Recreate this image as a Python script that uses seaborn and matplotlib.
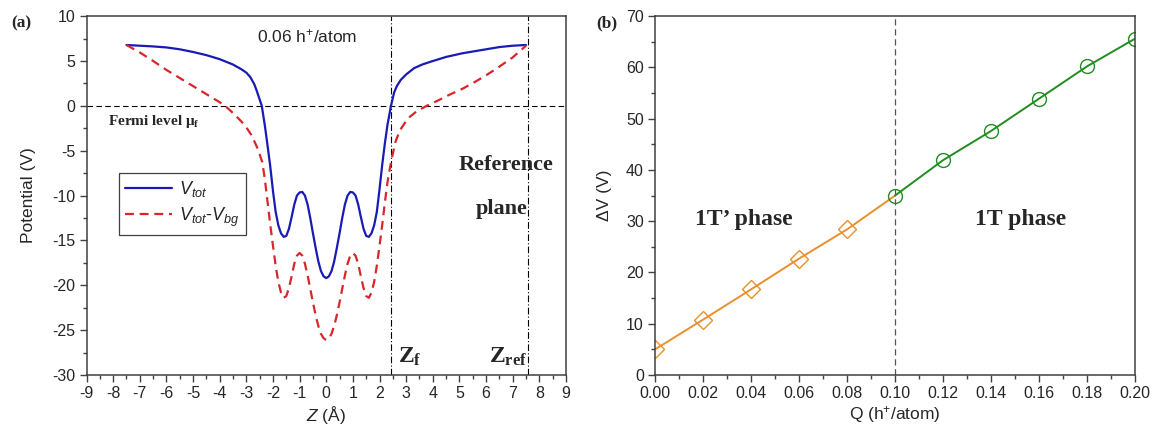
import matplotlib
matplotlib.use("Agg")
import matplotlib.pyplot as plt
from matplotlib.ticker import MultipleLocator
import seaborn as sns

# ---- panel (a): potential profile at 0.06 h+/atom ----
z_tot = [-7.5, -6.5, -6.0, -5.5, -5.0, -4.5, -4.0, -3.5, -3.2, -3.0, -2.85, -2.7, -2.6, -2.5,
         -2.42, -2.3, -2.2, -2.1, -2.0, -1.9, -1.8, -1.7, -1.6, -1.5, -1.4, -1.3, -1.2, -1.1,
         -1.0, -0.9, -0.8, -0.7, -0.6, -0.5, -0.4, -0.3, -0.2, -0.1, 0.0,
         0.1, 0.2, 0.3, 0.4, 0.5, 0.6, 0.7, 0.8, 0.9, 1.0, 1.1, 1.2, 1.3, 1.4, 1.5, 1.6,
         1.7, 1.8, 1.9, 2.0, 2.1, 2.2, 2.3, 2.43, 2.55, 2.65, 2.8, 3.0, 3.3, 3.6, 3.9,
         4.5, 5.1, 5.5, 6.0, 6.5, 7.0, 7.5]
v_tot = [6.78, 6.62, 6.51, 6.3, 6.0, 5.65, 5.2, 4.6, 4.1, 3.7, 3.2, 2.4, 1.6, 0.7,
         0.0, -2.3, -4.5, -6.8, -9.5, -11.8, -13.3, -14.2, -14.6, -14.5, -13.7, -12.4, -11.0, -10.0,
         -9.65, -9.6, -10.0, -11.0, -12.5, -14.2, -15.8, -17.3, -18.4, -19.0, -19.2,
         -19.0, -18.4, -17.3, -15.8, -14.2, -12.5, -11.0, -10.0, -9.6, -9.65, -10.0, -11.0, -12.4, -13.7, -14.5, -14.6,
         -14.2, -13.3, -11.8, -9.3, -6.6, -4.2, -2.1, 0.0, 1.5, 2.2, 2.9, 3.5, 4.2, 4.6, 4.9,
         5.45, 5.85, 6.05, 6.3, 6.55, 6.7, 6.78]

z_bg = [-7.5, -7.0, -6.5, -6.0, -5.5, -5.0, -4.5, -4.0, -3.8, -3.5, -3.2, -3.0, -2.8, -2.6,
        -2.5, -2.4, -2.3, -2.2, -2.1, -2.0, -1.9, -1.8, -1.7, -1.6, -1.5, -1.4, -1.3, -1.2,
        -1.1, -1.0, -0.9, -0.8, -0.7, -0.6, -0.5, -0.4, -0.3, -0.2, -0.1, 0.0,
        0.1, 0.2, 0.3, 0.4, 0.5, 0.6, 0.7, 0.8, 0.9, 1.0, 1.1, 1.2, 1.3, 1.4, 1.5, 1.6,
        1.7, 1.8, 1.9, 2.0, 2.1, 2.2, 2.3, 2.4, 2.46, 2.6, 2.77, 3.0, 3.14, 3.4, 3.77,
        4.2, 4.6, 5.14, 5.6, 6.0, 6.4, 7.0, 7.5]
v_bg = [6.78, 5.95, 5.0, 4.0, 3.1, 2.2, 1.3, 0.4, 0.0, -0.8, -1.7, -2.4, -3.3, -4.6,
        -5.4, -6.3, -8.3, -10.8, -13.3, -15.6, -17.8, -19.6, -20.8, -21.4, -21.2, -20.3, -19.0, -17.6,
        -16.7, -16.4, -16.7, -17.6, -18.9, -20.4, -21.9, -23.3, -24.5, -25.4, -25.9, -26.1,
        -25.9, -25.4, -24.5, -23.3, -21.9, -20.4, -18.9, -17.6, -16.7, -16.4, -16.7, -17.6, -19.0, -20.3, -21.2, -21.4,
        -20.8, -19.6, -17.8, -15.6, -13.3, -10.8, -8.5, -6.8, -5.86, -4.0, -2.7, -1.7, -1.22, -0.6, 0.0,
        0.6, 1.2, 1.94, 2.7, 3.4, 4.17, 5.4, 6.7]

z_f = 2.43
z_ref = 7.58

# ---- panel (b): potential drop vs doping ----
q_1tp = [0.00, 0.02, 0.04, 0.06, 0.08, 0.10]
dv_1tp = [5.0, 10.8, 16.7, 22.7, 28.4, 35.0]
q_1t = [0.10, 0.12, 0.14, 0.16, 0.18, 0.20]
dv_1t = [35.0, 41.9, 47.6, 53.9, 60.2, 65.6]

sns.set_style("ticks")
plt.rcParams["font.family"] = ["Liberation Sans", "DejaVu Sans"]
plt.rcParams["axes.unicode_minus"] = False
plt.rcParams["mathtext.fontset"] = "custom"
plt.rcParams["mathtext.rm"] = "Liberation Sans"
plt.rcParams["mathtext.it"] = "Liberation Sans:italic"
plt.rcParams["mathtext.bf"] = "Liberation Serif:bold"

serif = ["Liberation Serif", "DejaVu Serif"]
spine_col = "#404040"

fig = plt.figure(figsize=(11.52, 4.34), dpi=100)
ax1 = fig.add_axes([0.0751, 0.1359, 0.4162, 0.827])
ax2 = fig.add_axes([0.5686, 0.1359, 0.4167, 0.827])

sns.lineplot(x=z_tot, y=v_tot, sort=False, color="#1a1ab4", lw=1.6,
             label="$V_{tot}$", ax=ax1)
sns.lineplot(x=z_bg, y=v_bg, sort=False, color="#d8262a", lw=1.6,
             linestyle=(0, (4, 2.6)), label="$V_{tot}$-$V_{bg}$", ax=ax1)

ax1.axhline(0, color="black", lw=0.8, ls=(0, (5, 3)), zorder=1)
for zz in (z_f, z_ref):
    ax1.axvline(zz, color="black", lw=0.8, ls=(0, (6, 2, 1, 2)), zorder=1)

ax1.set_xlim(-9, 9)
ax1.set_ylim(-30, 10)
ax1.xaxis.set_major_locator(MultipleLocator(1))
ax1.xaxis.set_minor_locator(MultipleLocator(0.5))
ax1.yaxis.set_major_locator(MultipleLocator(5))
ax1.yaxis.set_minor_locator(MultipleLocator(2.5))
ax1.set_xlabel("$Z$ (Å)", fontsize=12.5, labelpad=2)
ax1.set_ylabel("Potential (V)", fontsize=12.5, labelpad=12)

ax1.text(-0.7, 7.7, "0.06 h$^{+}$/atom", ha="center", va="center", fontsize=12.5)
ax1.text(-8.2, -1.7, "Fermi level μ$_\\mathbf{f}$", family=serif, weight="bold",
         fontsize=11, ha="left", va="center")
ax1.text(6.75, -6.6, "Reference", family=serif, weight="bold", fontsize=16,
         ha="center", va="center")
ax1.text(6.6, -11.5, "plane", family=serif, weight="bold", fontsize=16,
         ha="center", va="center")
ax1.text(2.7, -28.0, "$\\mathbf{Z_f}$", fontsize=17, ha="left", va="center")
ax1.text(6.1, -28.0, "$\\mathbf{Z_{ref}}$", fontsize=17, ha="left", va="center")

leg = ax1.legend(loc="lower left", bbox_to_anchor=(0.048, 0.365), fancybox=False,
                 edgecolor=spine_col, framealpha=1, fontsize=13, handlelength=2.6,
                 borderpad=0.35, labelspacing=0.35, handletextpad=0.4)
leg.get_frame().set_linewidth(0.9)

# panel (b)
sns.lineplot(x=q_1tp, y=dv_1tp, color="#e8902c", lw=1.4, marker="D", markersize=9,
             markerfacecolor="none", markeredgecolor="#e8902c", markeredgewidth=1.0,
             markevery=[0, 1, 2, 3, 4], ax=ax2)
sns.lineplot(x=q_1t, y=dv_1t, color="#228b22", lw=1.4, marker="o", markersize=10,
             markerfacecolor="none", markeredgecolor="#228b22", markeredgewidth=1.0,
             ax=ax2)
ax2.axvline(0.10, color="#555555", lw=0.9, ls=(0, (5, 3)), zorder=1)

ax2.set_xlim(0, 0.2)
ax2.set_ylim(0, 70)
ax2.xaxis.set_major_locator(MultipleLocator(0.02))
ax2.xaxis.set_minor_locator(MultipleLocator(0.01))
ax2.yaxis.set_major_locator(MultipleLocator(10))
ax2.yaxis.set_minor_locator(MultipleLocator(5))
ax2.xaxis.set_major_formatter(plt.FormatStrFormatter("%.2f"))
ax2.set_xlabel("Q (h$^{+}$/atom)", fontsize=12.5, labelpad=2)
ax2.set_ylabel("ΔV (V)", fontsize=12.5, labelpad=10)

ax2.text(0.037, 30.3, "1T’ phase", family=serif, weight="bold", fontsize=17,
         ha="center", va="center")
ax2.text(0.1525, 30.3, "1T phase", family=serif, weight="bold", fontsize=17,
         ha="center", va="center")

for ax in (ax1, ax2):
    for sp in ax.spines.values():
        sp.set_visible(True)
        sp.set_color(spine_col)
        sp.set_linewidth(1.1)
    ax.tick_params(which="major", direction="out", length=5, width=1.0,
                   color=spine_col, labelsize=11.5, pad=3)
    ax.tick_params(which="minor", direction="out", length=3, width=1.0,
                   color=spine_col)

fig.text(0.010, 0.945, "(a)", family=serif, weight="bold", fontsize=12.5,
         ha="left", va="center")
fig.text(0.518, 0.945, "(b)", family=serif, weight="bold", fontsize=12.5,
         ha="left", va="center")

fig.savefig("out.png", dpi=100)
